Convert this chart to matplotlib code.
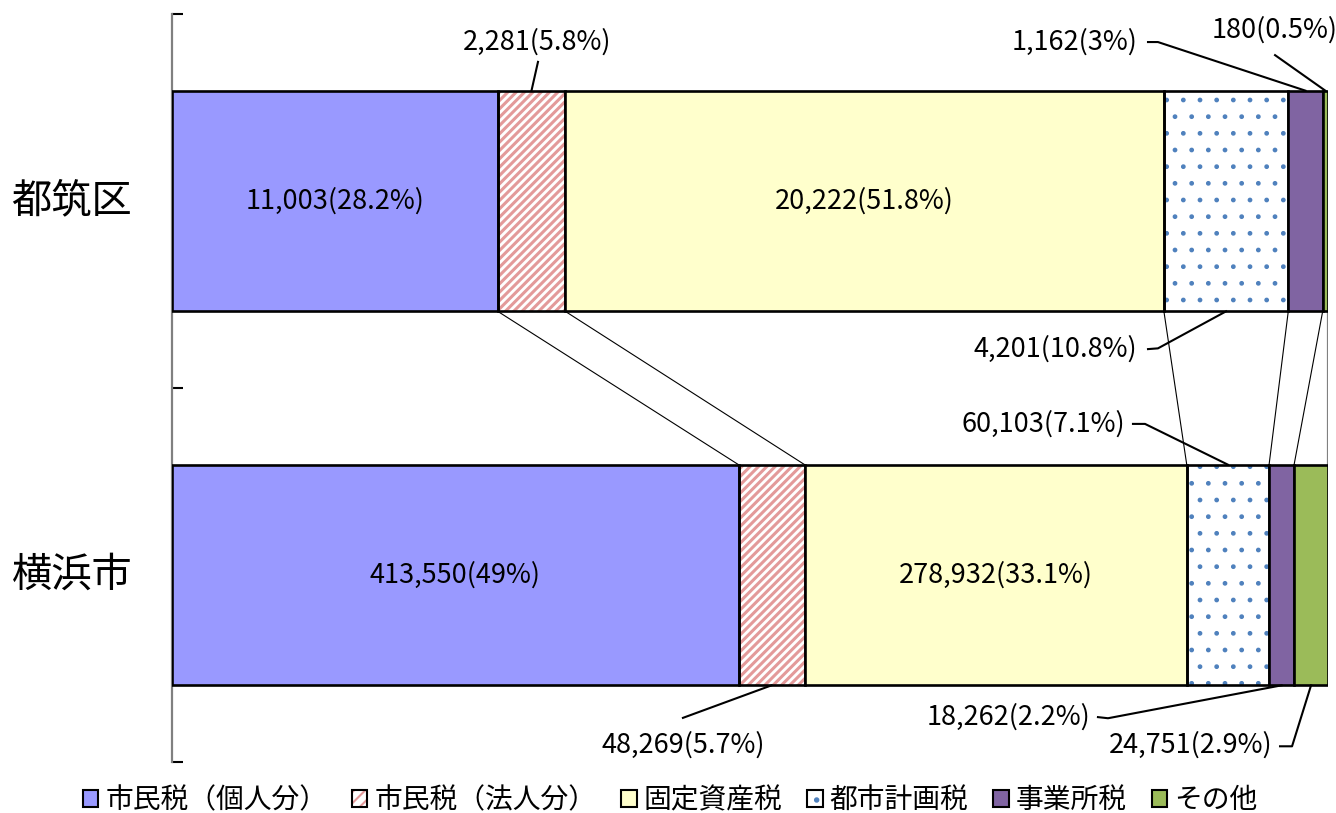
import matplotlib
matplotlib.use("Agg")
import matplotlib.pyplot as plt
from matplotlib.patches import Patch
from matplotlib.transforms import blended_transform_factory
import numpy as np

plt.rcParams['font.family'] = ['Noto Sans CJK JP', 'DejaVu Sans']

# ---- data ----
categories = ["都筑区", "横浜市"]
series_names = ["市民税（個人分）", "市民税（法人分）", "固定資産税", "都市計画税", "事業所税", "その他"]
tsuzuki_values = [11003, 2281, 20222, 4201, 1162, 180]
yokohama_values = [413550, 48269, 278932, 60103, 18262, 24751]

# ---- styles ----
face_colors = ["#9999FF", "#FFFFFF", "#FFFFCC", "#FFFFFF", "#8064A2", "#9BBB59"]
hatches = [None, "////", None, ".", None, None]
hatch_colors = [None, "#E39A9A", None, "#4F81BD", None, None]
hatch_lws = [None, 2.2, None, 1.0, None, None]

rows = {"都筑区": 1.0, "横浜市": 0.0}
bar_h = 0.59

fig = plt.figure(figsize=(13.36, 8.13), dpi=100)
ax = fig.add_axes([172 / 1336, 51 / 813, 1156 / 1336, 748 / 813])
ax.set_xlim(0, 100)
ax.set_ylim(-0.5, 1.5)


def fmt_pct(p):
    s = f"{p:.1f}"
    if s.endswith(".0"):
        s = s[:-2]
    return s


all_vals = {"都筑区": tsuzuki_values, "横浜市": yokohama_values}
bounds = {}
pcts = {}
for cat in categories:
    vals = np.array(all_vals[cat], dtype=float)
    pct = vals / vals.sum() * 100
    pcts[cat] = pct
    lefts = np.concatenate([[0], np.cumsum(pct)[:-1]])
    bounds[cat] = (lefts, pct)
    y = rows[cat]
    for i in range(len(vals)):
        if hatches[i]:
            plt.rcParams['hatch.linewidth'] = hatch_lws[i]
            ax.barh(y, pct[i], left=lefts[i], height=bar_h, color=face_colors[i],
                    hatch=hatches[i], edgecolor=hatch_colors[i], linewidth=0, zorder=2)
            ax.barh(y, pct[i], left=lefts[i], height=bar_h, facecolor="none",
                    edgecolor="black", linewidth=1.9, zorder=3)
        else:
            ax.barh(y, pct[i], left=lefts[i], height=bar_h, color=face_colors[i],
                    edgecolor="black", linewidth=1.9, zorder=3)

# series lines between bars
tl, tw = bounds["都筑区"]
bl, bw = bounds["横浜市"]
top_edges = np.cumsum(tw)
bot_edges = np.cumsum(bw)
y_from = rows["都筑区"] - bar_h / 2
y_to = rows["横浜市"] + bar_h / 2
for k in range(len(top_edges)):
    col = "#808080" if k == len(top_edges) - 1 else "black"
    lw = 1.6 if k == len(top_edges) - 1 else 0.8
    ax.plot([top_edges[k], bot_edges[k]], [y_from, y_to], color=col, lw=lw, zorder=1)

label_fs = 19.5
# inside labels
inside = [("都筑区", 0), ("都筑区", 2), ("横浜市", 0), ("横浜市", 2)]
for cat, i in inside:
    lefts, w = bounds[cat]
    v = all_vals[cat][i]
    ax.text(lefts[i] + w[i] / 2, rows[cat], f"{v:,}({fmt_pct(pcts[cat][i])}%)",
            ha="center", va="center", fontsize=label_fs, zorder=5)

# outside labels with leader lines
outside = [
    ("都筑区", 1, 31.57, 1.425, "center", [(31.66, 1.372)], "top"),
    ("都筑区", 4, 83.48, 1.425, "right", [(84.43, 1.425), (85.29, 1.425)], "top"),
    ("都筑区", 5, 95.42, 1.457, "center", [(95.42, 1.390)], "top"),
    ("都筑区", 3, 83.48, 0.604, "right", [(84.43, 0.604), (85.29, 0.606)], "bottom"),
    ("横浜市", 3, 82.44, 0.404, "right", [(83.13, 0.404), (84.17, 0.404)], "top"),
    ("横浜市", 1, 44.20, -0.455, "center", [(44.20, -0.382)], "bottom"),
    ("横浜市", 4, 79.41, -0.380, "right", [(80.10, -0.380), (80.97, -0.383)], "bottom"),
    ("横浜市", 5, 95.16, -0.455, "right", [(95.85, -0.458), (96.89, -0.458)], "bottom"),
]
for cat, i, tx, ty, ha, pts, side in outside:
    lefts, w = bounds[cat]
    v = all_vals[cat][i]
    ax.text(tx, ty, f"{v:,}({fmt_pct(pcts[cat][i])}%)", ha=ha, va="center",
            fontsize=label_fs, zorder=5)
    ey = rows[cat] + (bar_h / 2 if side == "top" else -bar_h / 2)
    xs = [p[0] for p in pts] + [lefts[i] + w[i] / 2]
    ys = [p[1] for p in pts] + [ey]
    ax.plot(xs, ys, color="black", lw=1.5, zorder=4, clip_on=False)

# axes styling
for s in ["top", "right", "bottom"]:
    ax.spines[s].set_visible(False)
ax.spines["left"].set_color("#808080")
ax.spines["left"].set_linewidth(1.6)
ax.set_xticks([])
ax.set_yticks([-0.5, 0.5, 1.5])
ax.set_yticklabels([])
ax.tick_params(axis="y", direction="in", length=8, width=1.5, color="black")
trans = blended_transform_factory(fig.transFigure, ax.transData)
for cat in categories:
    ax.text(72 / 1336, rows[cat], cat, transform=trans, ha="center", va="center",
            fontsize=29)

# legend
handles = []
for i, name in enumerate(series_names):
    if hatches[i]:
        plt.rcParams['hatch.linewidth'] = 1.5
        h = Patch(facecolor=face_colors[i], edgecolor=hatch_colors[i], hatch=hatches[i][:3],
                  linewidth=0)
        h2 = Patch(facecolor="none", edgecolor="black", linewidth=1.5)
        handles.append((h, h2))
    else:
        handles.append(Patch(facecolor=face_colors[i], edgecolor="black", linewidth=1.5))
fig.legend(handles, series_names, loc="center", bbox_to_anchor=(670 / 1336, 1 - 800 / 813),
           ncol=6, frameon=False, fontsize=20, handlelength=0.55, handleheight=0.55,
           handletextpad=0.25, columnspacing=0.9, borderaxespad=0)

fig.savefig("out.png", dpi=100)
